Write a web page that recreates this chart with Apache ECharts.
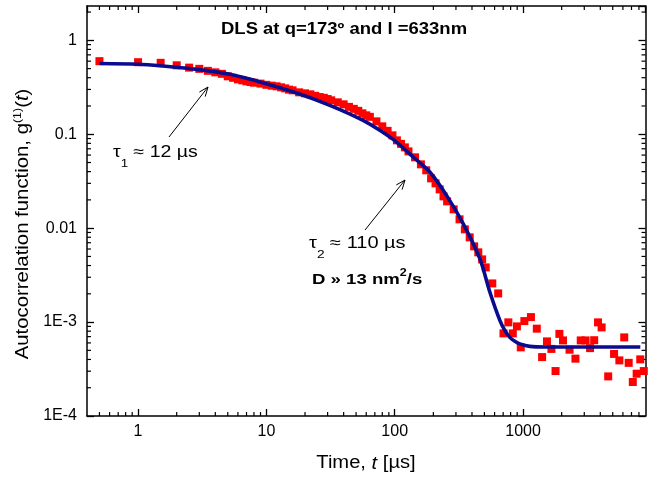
<!DOCTYPE html>
<html>
<head>
<meta charset="utf-8">
<script src="https://cdn.jsdelivr.net/npm/echarts@6/dist/echarts.min.js"></script>
<style>
html,body{margin:0;padding:0;background:#fff;}
#chart{width:648px;height:477px;}
</style>
</head>
<body>
<div id="chart"></div>
<script>
// ---- data ----
const lagTimes = [0.5,1,1.5,2,2.5,3,3.5,4,4.5,5,5.5,6,6.5,7,7.5,8,
  9,10,11,12,13,14,15,16,18,20,22,24,26,28,30,32,36,40,44,48,52,56,60,64,
  72,80,88,96,104,112,120,128,144,160,176,192,208,224,240,256,
  288,320,352,384,416,448,480,512,576,640,704,768,832,896,960,1024,
  1152,1280,1408,1536,1664,1792,1920,2048,2304,2560,2816,3072,3328,3584,3840,4096,
  4608,5120,5632,6144,6656,7168,7680,8192,8730];
const g1Values = [0.600,0.585,0.576,0.542,0.512,0.497,0.473,0.456,0.440,0.414,0.399,0.384,0.375,0.366,0.360,0.354,
  0.346,0.336,0.329,0.324,0.316,0.308,0.2985,0.2935,0.2794,0.2726,0.266,0.2564,0.249,0.2441,0.237,0.2296,
  0.2186,0.2082,0.1957,0.1864,0.1775,0.167,0.159,0.1532,
  0.1372,0.1214,0.1087,0.0973,0.0861,0.079,0.0725,0.0657,0.0568,0.0478,0.0413,0.0339,0.0300,0.0259,0.0218,0.0193,
  0.01585,0.01241,0.00971,0.00798,0.0064,0.00553,0.00465,0.00382,0.00258,0.00202,7.58e-4,9.93e-4,7.58e-4,9.0e-4,5.38e-4,1.025e-3,
  1.13e-3,8.51e-4,4.24e-4,6.23e-4,5.18e-4,3.01e-4,7.49e-4,6.38e-4,5.08e-4,4.08e-4,6.38e-4,6.38e-4,5.28e-4,6.41e-4,9.93e-4,8.78e-4,
  2.64e-4,4.58e-4,3.91e-4,6.87e-4,3.68e-4,2.30e-4,2.82e-4,4.01e-4,3.01e-4];
const fitTimes = [0.5,1,1.557,2.867,5.185,9.37,17.26,31.2,56.7,76.5,103.3,139.1,187.7,253.3,341.3,460.5,551,659.6,721,789,863,944,1130,1479,2500,8200];
const fitValues = [0.566,0.556,0.532,0.491,0.4346,0.3543,0.2747,0.2032,0.1406,0.110,0.0826,0.0572,0.0396,0.02235,0.01117,0.00473,0.00209,1.042e-3,8.16e-4,6.87e-4,6.24e-4,5.86e-4,5.51e-4,5.42e-4,5.42e-4,5.42e-4];
const xTickValues = [1,10,100,1000];
const xTickLabels = ['1','10','100','1000'];
const yTickValues = [1e-4,1e-3,0.01,0.1,1];
const yTickLabels = ['1E-4','1E-3','0.01','0.1','1'];
const xMinorTicks = [0.5,0.6,0.7,0.8,0.9,2,3,4,5,6,7,8,9,20,30,40,50,60,70,80,90,200,300,400,500,600,700,800,900,2000,3000,4000,5000,6000,7000,8000];
const yMinorTicks = [2e-4,3e-4,4e-4,5e-4,6e-4,7e-4,8e-4,9e-4,2e-3,3e-3,4e-3,5e-3,6e-3,7e-3,8e-3,9e-3,0.02,0.03,0.04,0.05,0.06,0.07,0.08,0.09,0.2,0.3,0.4,0.5,0.6,0.7,0.8,0.9,2];
const X_MIN = 0.4, X_MAX = 9000, Y_MIN = 1e-4, Y_MAX = 2.32;

// ---- chart ----
const FONT = "'Liberation Sans', Arial, sans-serif";
const chart = echarts.init(document.getElementById('chart'), null, {renderer: 'canvas'});

function lookupLabel(values, labels, v) {
  for (let i = 0; i < values.length; i++) {
    if (Math.abs(Math.log10(v) - Math.log10(values[i])) < 1e-6) return labels[i];
  }
  return '';
}

const axisLineStyle = {color: '#000', width: 1.5};
function xAxisDef(pos, showLabel) {
  return {
    type: 'log', logBase: 10, position: pos, min: X_MIN, max: X_MAX,
    axisLine: {show: true, onZero: false, lineStyle: axisLineStyle},
    axisTick: {show: true, inside: true, length: 7, lineStyle: {color: '#000', width: 1.3}},
    axisLabel: {show: showLabel, showMinLabel: false, showMaxLabel: false, margin: 8,
      fontFamily: FONT, fontSize: 16, color: '#000',
      formatter: v => lookupLabel(xTickValues, xTickLabels, v)},
    splitLine: {show: false}, minorTick: {show: false}
  };
}
function yAxisDef(pos, showLabel) {
  return {
    type: 'log', logBase: 10, position: pos, min: Y_MIN, max: Y_MAX,
    axisLine: {show: true, onZero: false, lineStyle: axisLineStyle},
    axisTick: {show: true, inside: true, length: 7, lineStyle: {color: '#000', width: 1.3}},
    axisLabel: {show: showLabel, showMaxLabel: false, margin: 10,
      fontFamily: FONT, fontSize: 16, color: '#000',
      formatter: v => lookupLabel(yTickValues, yTickLabels, v)},
    splitLine: {show: false}, minorTick: {show: false}
  };
}

function minorTickSeries(values, isX) {
  return {
    type: 'custom', coordinateSystem: 'cartesian2d', silent: true, clip: false, z: 1,
    xAxisIndex: 0, yAxisIndex: 0,
    data: values.map(v => isX ? [v, Y_MIN] : [X_MIN, v]),
    renderItem: function (params, api) {
      const p = api.coord([api.value(0), api.value(1)]);
      const cs = params.coordSys;
      const st = {stroke: '#000', lineWidth: 1.2};
      const L = 4;
      if (isX) {
        return {type: 'group', children: [
          {type: 'line', shape: {x1: p[0], y1: cs.y + cs.height, x2: p[0], y2: cs.y + cs.height - L}, style: st},
          {type: 'line', shape: {x1: p[0], y1: cs.y, x2: p[0], y2: cs.y + L}, style: st}
        ]};
      }
      return {type: 'group', children: [
        {type: 'line', shape: {x1: cs.x, y1: p[1], x2: cs.x + L, y2: p[1]}, style: st},
        {type: 'line', shape: {x1: cs.x + cs.width, y1: p[1], x2: cs.x + cs.width - L, y2: p[1]}, style: st}
      ]};
    }
  };
}

const scatterData = lagTimes.map((t, i) => [t, g1Values[i]]);
const fitData = fitTimes.map((t, i) => [t, fitValues[i]]);

function arrow(x1, y1, x2, y2) {
  const ang = Math.atan2(y2 - y1, x2 - x1);
  const h = 10, spread = 0.38;
  const a1 = [x2 - h * Math.cos(ang - spread), y2 - h * Math.sin(ang - spread)];
  const a2 = [x2 - h * Math.cos(ang + spread), y2 - h * Math.sin(ang + spread)];
  return [
    {type: 'line', shape: {x1: x1, y1: y1, x2: x2, y2: y2}, style: {stroke: '#000', lineWidth: 1}, z: 10},
    {type: 'polyline', shape: {points: [a1, [x2, y2], a2]}, style: {stroke: '#000', fill: null, lineWidth: 1}, z: 10}
  ];
}

const subRich = {a: {font: '16px ' + FONT, fill: '#000', lineHeight: 20},
  s: {font: '11px ' + FONT, fill: '#000', verticalAlign: 'bottom', lineHeight: 20, padding: [0,0,-6,0]}};

const option = {
  animation: false,
  backgroundColor: '#fff',
  grid: {left: 87, right: 2.5, top: 6, bottom: 61, containLabel: false, outerBoundsMode: 'none'},
  xAxis: [xAxisDef('bottom', true), xAxisDef('top', false)],
  yAxis: [yAxisDef('left', true), yAxisDef('right', false)],
  series: [
    minorTickSeries(xMinorTicks, true),
    minorTickSeries(yMinorTicks, false),
    {
      type: 'scatter', name: 'data', xAxisIndex: 0, yAxisIndex: 0, z: 2,
      symbol: 'rect', symbolSize: 8,
      itemStyle: {color: '#ff0000', opacity: 1},
      data: scatterData
    },
    {
      type: 'line', name: 'fit', xAxisIndex: 0, yAxisIndex: 0, z: 3,
      showSymbol: false, symbol: 'none', smooth: 0.3,
      lineStyle: {color: '#0b0b8f', width: 3.6},
      data: fitData
    }
  ],
  graphic: [
    {type: 'text', x: 221, y: 29, scaleX: 1.12, z: 10,
      style: {text: 'DLS at q=173º and l =633nm', font: 'bold 16.5px ' + FONT, fill: '#000', verticalAlign: 'middle'}},
    {type: 'text', x: 113, y: 153, scaleX: 1.22, z: 10,
      style: {text: '{a|τ}{s|1}{a| ≈ 12 µs}', verticalAlign: 'middle', rich: subRich}},
    {type: 'text', x: 309, y: 244, scaleX: 1.25, z: 10,
      style: {text: '{a|τ}{s|2}{a| ≈ 110 µs}', verticalAlign: 'middle', rich: subRich}},
    {type: 'text', x: 312, y: 280, scaleX: 1.24, z: 10,
      style: {text: '{a|D » 13 nm}{s|2}{a|/s}', verticalAlign: 'middle',
        rich: {a: {font: 'bold 15px ' + FONT, fill: '#000', lineHeight: 20}, s: {font: 'bold 10px ' + FONT, fill: '#000', verticalAlign: 'top', lineHeight: 20, padding: [-2,0,0,0]}}}},
    {type: 'text', x: 366, y: 463.5, scaleX: 1.12, z: 10,
      style: {text: '{a|Time, }{i|t}{a| [µs]}', align: 'center', verticalAlign: 'middle',
        rich: {a: {font: '18px ' + FONT, fill: '#000'}, i: {font: 'italic 18px ' + FONT, fill: '#000'}}}},
    {type: 'text', x: 23, y: 224, rotation: Math.PI / 2, scaleX: 1.13, z: 10,
      style: {text: '{a|Autocorrelation function, g}{s|(1)}{a|(}{i|t}{a|)}', align: 'center', verticalAlign: 'middle',
        rich: {a: {font: '18px ' + FONT, fill: '#000', lineHeight: 22}, i: {font: 'italic 18px ' + FONT, fill: '#000', lineHeight: 22},
               s: {font: '11px ' + FONT, fill: '#000', verticalAlign: 'top', lineHeight: 22}}}},
    ...arrow(169, 137, 208, 87),
    ...arrow(365, 230, 405, 180)
  ]
};
chart.setOption(option);
</script>
</body>
</html>
